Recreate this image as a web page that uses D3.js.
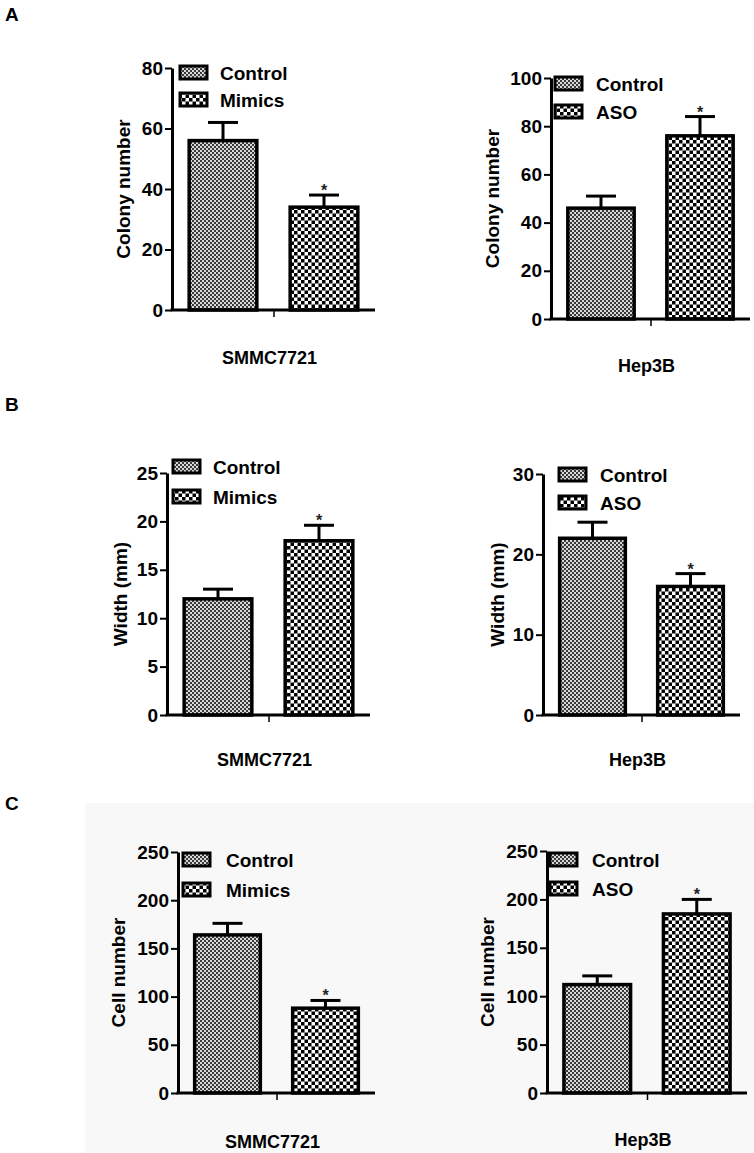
<!DOCTYPE html>
<html><head><meta charset="utf-8">
<script src="https://cdn.jsdelivr.net/npm/d3@7"></script>
<style>body{margin:0;background:#fff}svg{display:block}</style>
</head><body>
<svg id="chart" width="754" height="1153"></svg>
<script>
// ---------- data ----------
const panelLetters = ["A", "B", "C"];
const cellLines = ["SMMC7721", "Hep3B"];
const groupsSMMC = ["Control", "Mimics"];
const groupsHep = ["Control", "ASO"];

const colonySMMC = [56, 34];
const colonySMMCErr = [6, 4];
const colonyHep = [46, 76];
const colonyHepErr = [5, 8];

const widthSMMC = [12, 18];
const widthSMMCErr = [1, 1.6];
const widthHep = [22, 16];
const widthHepErr = [2, 1.6];

const cellSMMC = [164, 88];
const cellSMMCErr = [12, 8];
const cellHep = [112, 185];
const cellHepErr = [9, 15];

const colonyTicksSMMC = [0, 20, 40, 60, 80];
const colonyTicksHep = [0, 20, 40, 60, 80, 100];
const widthTicksSMMC = [0, 5, 10, 15, 20, 25];
const widthTicksHep = [0, 10, 20, 30];
const cellTicks = [0, 50, 100, 150, 200, 250];

const yTitles = ["Colony number", "Width (mm)", "Cell number"];
const significance = ["", "*"];

// ---------- layout ----------
const FONT = "'Liberation Sans', Arial, Helvetica, sans-serif";
const panels = [
  {groups: groupsSMMC, values: colonySMMC, errs: colonySMMCErr, ticks: colonyTicksSMMC, title: yTitles[0], xLab: cellLines[0],
   ax: 172, xEnd: 375, y0: 310, yTop: 68, titleOff: 49, xLabY: 364, legX: 180, legY: [66, 93], legTextX: 220},
  {groups: groupsHep, values: colonyHep, errs: colonyHepErr, ticks: colonyTicksHep, title: yTitles[0], xLab: cellLines[1],
   ax: 551, xEnd: 750, y0: 319, yTop: 78, titleOff: 59, xLabY: 372, legX: 555, legY: [77, 105], legTextX: 596},
  {groups: groupsSMMC, values: widthSMMC, errs: widthSMMCErr, ticks: widthTicksSMMC, title: yTitles[1], xLab: cellLines[0],
   ax: 167, xEnd: 370, y0: 715, yTop: 473, titleOff: 47, xLabY: 766, legX: 173, legY: [460, 490], legTextX: 213},
  {groups: groupsHep, values: widthHep, errs: widthHepErr, ticks: widthTicksHep, title: yTitles[1], xLab: cellLines[1],
   ax: 543, xEnd: 740, y0: 715, yTop: 474, titleOff: 46, xLabY: 766, legX: 559, legY: [468, 496], legTextX: 600},
  {groups: groupsSMMC, values: cellSMMC, errs: cellSMMCErr, ticks: cellTicks, title: yTitles[2], xLab: cellLines[0],
   ax: 178, xEnd: 375, y0: 1093, yTop: 852, titleOff: 60, xLabY: 1148, legX: 183, legY: [853, 883], legTextX: 226},
  {groups: groupsHep, values: cellHep, errs: cellHepErr, ticks: cellTicks, title: yTitles[2], xLab: cellLines[1],
   ax: 547, xEnd: 747, y0: 1093, yTop: 851, titleOff: 60, xLabY: 1146, legX: 550, legY: [853, 882], legTextX: 592}
];
const letterY = [21, 411, 810];

const svg = d3.select("#chart");

// faint scanned background of panel C
svg.append("rect").attr("x", 85).attr("y", 803).attr("width", 669).attr("height", 350).attr("fill", "#f8f8f8");

// patterns
const defs = svg.append("defs");
const p1 = defs.append("pattern").attr("id", "patCtrl").attr("patternUnits", "userSpaceOnUse")
  .attr("width", 4).attr("height", 4);
p1.append("rect").attr("width", 4).attr("height", 4).attr("fill", "#d8d8d8");
p1.append("rect").attr("width", 2).attr("height", 2).attr("fill", "#3a3a3a");
p1.append("rect").attr("x", 2).attr("y", 2).attr("width", 2).attr("height", 2).attr("fill", "#3a3a3a");
const p2 = defs.append("pattern").attr("id", "patTreat").attr("patternUnits", "userSpaceOnUse")
  .attr("width", 7).attr("height", 7);
p2.append("rect").attr("width", 7).attr("height", 7).attr("fill", "#fff");
p2.append("rect").attr("width", 3.5).attr("height", 3.5).attr("fill", "#000");
p2.append("rect").attr("x", 3.5).attr("y", 3.5).attr("width", 3.5).attr("height", 3.5).attr("fill", "#000");
const fills = ["url(#patCtrl)", "url(#patTreat)"];

// panel letters
panelLetters.forEach((L, i) => {
  svg.append("text").attr("x", 5).attr("y", letterY[i]).text(L)
    .attr("font-family", FONT).attr("font-weight", "bold").attr("font-size", 19).attr("fill", "#000");
});

panels.forEach(p => {
  const g = svg.append("g");
  const yMax = p.ticks[p.ticks.length - 1];
  const y = d3.scaleLinear().domain([0, yMax]).range([p.y0, p.yTop]);
  const x = d3.scaleBand().domain(p.groups).range([p.ax, p.xEnd]).paddingInner(0.33).paddingOuter(0.17);

  // bars
  g.selectAll("rect.bar").data(p.groups).enter().append("rect").attr("class", "bar")
    .attr("x", d => x(d)).attr("width", x.bandwidth())
    .attr("y", (d, i) => y(p.values[i])).attr("height", (d, i) => p.y0 - y(p.values[i]))
    .attr("fill", (d, i) => fills[i]).attr("stroke", "#000").attr("stroke-width", 3.5);

  // error bars (upper only)
  p.groups.forEach((d, i) => {
    const cx = x(d) + x.bandwidth() / 2;
    const top = y(p.values[i] + p.errs[i]);
    g.append("line").attr("x1", cx).attr("x2", cx).attr("y1", y(p.values[i])).attr("y2", top)
      .attr("stroke", "#000").attr("stroke-width", 3);
    g.append("line").attr("x1", cx - 15).attr("x2", cx + 15).attr("y1", top).attr("y2", top)
      .attr("stroke", "#000").attr("stroke-width", 3);
    if (significance[i]) {
      g.append("text").attr("x", cx).attr("y", top + 1).attr("text-anchor", "middle")
        .attr("font-family", FONT).attr("font-weight", "bold").attr("font-size", 16).attr("fill", "#222").text(significance[i]);
    }
  });

  // y axis
  const ya = g.append("g").attr("transform", `translate(${p.ax},0)`)
    .call(d3.axisLeft(y).tickValues(p.ticks).tickSize(7).tickSizeOuter(0).tickPadding(2));
  ya.select(".domain").attr("stroke", "#000").attr("stroke-width", 3);
  ya.selectAll(".tick line").attr("stroke", "#000").attr("stroke-width", 2);
  ya.selectAll(".tick text").attr("font-family", FONT).attr("font-weight", "bold")
    .attr("font-size", 19).attr("fill", "#000");

  // x axis
  const xa = g.append("g").attr("transform", `translate(0,${p.y0})`)
    .call(d3.axisBottom(d3.scalePoint().domain([p.xLab]).range([p.ax, p.xEnd]).padding(0.5))
      .tickSize(7).tickSizeOuter(0).tickFormat(""));
  xa.select(".domain").attr("stroke", "#000").attr("stroke-width", 3).attr("d", `M${p.ax - 1.5},0H${p.xEnd}`);
  xa.selectAll(".tick line").attr("stroke", "#000").attr("stroke-width", 1.5);

  // x label
  g.append("text").attr("x", (p.ax + p.xEnd) / 2 - 4).attr("y", p.xLabY).attr("text-anchor", "middle")
    .attr("font-family", FONT).attr("font-weight", "bold").attr("font-size", 18).text(p.xLab);

  // y title
  g.append("text").attr("transform", `translate(${p.ax - p.titleOff},${(p.y0 + p.yTop) / 2}) rotate(-90)`)
    .attr("text-anchor", "middle").attr("dominant-baseline", "central")
    .attr("font-family", FONT).attr("font-weight", "bold").attr("font-size", 19).text(p.title);

  // legend
  p.groups.forEach((d, i) => {
    g.append("rect").attr("x", p.legX).attr("y", p.legY[i]).attr("width", 27).attr("height", 13)
      .attr("fill", fills[i]).attr("stroke", "#000").attr("stroke-width", 3);
    g.append("text").attr("x", p.legTextX).attr("y", p.legY[i] + 7).attr("dominant-baseline", "central")
      .attr("font-family", FONT).attr("font-weight", "bold").attr("font-size", 19).text(d);
  });
});
</script>
</body></html>
